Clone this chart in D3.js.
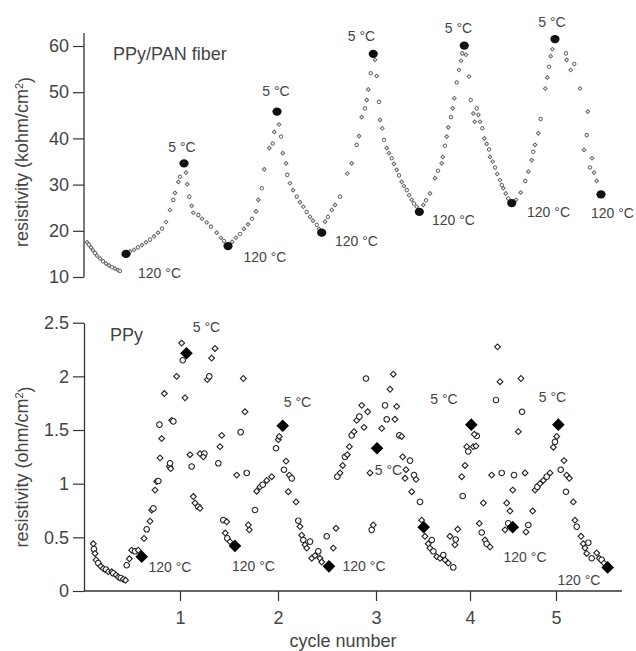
<!DOCTYPE html>
<html><head><meta charset="utf-8">
<script src="https://cdn.jsdelivr.net/npm/d3@7"></script>
<style>
body{margin:0;background:#fff}
svg{display:block}
text{font-family:Arial,"Liberation Sans",sans-serif;fill:#444}
</style>
</head><body>
<svg id="chart" width="636" height="651"></svg>
<script>
// ---------- data ----------
const cycleTicks = [1, 2, 3, 4, 5];
const fiberTicks = [10, 20, 30, 40, 50, 60];
const ppyTicks = [0, 0.5, 1, 1.5, 2, 2.5];

// PPy/PAN fiber: open (small) markers
const fiberX = [0.051,0.071,0.092,0.112,0.133,0.153,0.184,0.214,0.245,0.276,0.306,0.337,0.367,0.388,
 0.490,0.531,0.571,0.612,0.653,0.694,0.735,0.776,0.816,0.857,0.898,0.932,0.949,0.983,1.000,
 1.061,1.074,1.095,1.119,1.136,1.187,1.224,1.272,1.316,1.374,1.418,1.449,
 1.531,1.571,1.612,1.653,1.694,1.735,1.776,1.799,1.834,1.860,1.911,1.946,1.962,
 2.010,2.031,2.048,2.082,2.095,2.122,2.153,2.191,2.224,2.258,2.293,2.327,2.357,2.395,2.418,
 2.480,2.510,2.548,2.582,2.633,2.707,2.752,2.803,2.827,2.854,2.888,2.905,2.921,2.946,
 2.990,3.007,3.032,3.043,3.067,3.085,3.114,3.138,3.167,3.191,3.220,3.245,3.273,3.298,3.327,3.351,3.380,3.404,3.433,
 3.503,3.532,3.574,3.628,3.660,3.699,3.710,3.734,3.752,3.769,3.798,3.816,3.833,3.858,3.883,3.904,3.918,
 3.957,3.989,4.008,4.038,4.055,4.078,4.097,4.116,4.143,4.166,4.194,4.221,4.233,4.264,4.291,4.317,4.349,4.369,4.387,4.415,4.445,4.535,
 4.590,4.643,4.678,4.717,4.736,4.756,4.794,4.822,4.876,4.899,4.919,4.938,4.957,
 5.116,5.124,5.171,5.213,5.279,5.369,5.357,5.326,5.419,5.395,5.442,5.473];
const fiberY = [17.5,17.0,16.4,15.8,15.2,14.6,14.0,13.4,12.9,12.5,12.1,11.8,11.5,11.3,
 15.5,15.9,16.4,16.9,17.5,18.1,18.8,19.6,20.5,21.9,24.5,26.7,28.2,30.6,31.7,
 32.6,30.1,27.4,25.4,23.9,23.4,22.6,21.8,20.9,19.6,18.5,17.8,
 17.6,18.5,19.3,20.4,21.4,22.6,24.2,26.7,29.2,33.3,37.9,38.9,41.4,
 43.0,40.4,36.8,34.6,32.1,30.3,28.8,27.4,26.2,25.2,24.1,23.0,22.2,21.3,20.4,
 22.0,23.0,24.5,25.6,27.4,32.4,34.6,38.6,40.5,44.6,46.5,48.3,50.6,54.1,
 57.0,53.5,47.9,44.0,42.2,39.7,37.9,36.8,35.7,34.5,33.2,32.0,30.6,29.7,28.8,27.7,26.7,25.9,25.2,
 25.6,26.6,28.1,31.4,33.0,34.6,36.0,38.4,40.4,42.4,44.6,46.5,48.7,52.1,54.8,56.8,58.4,
 58.1,53.4,48.3,45.4,43.6,46.5,45.1,43.6,42.2,40.0,38.8,37.6,36.0,35.0,33.7,32.3,31.0,29.9,29.2,28.1,27.0,26.7,
 28.3,30.8,32.8,35.3,37.1,38.6,41.1,44.2,50.8,53.2,55.5,57.8,59.3,
 58.4,57.0,54.8,56.1,50.8,45.8,40.7,37.5,35.7,33.7,32.6,30.8];
// PPy/PAN fiber: filled markers (5 °C / 120 °C end points)
const fiberFilledX = [0.449,1.041,1.490,1.990,2.446,2.972,3.461,3.939,4.485,4.988,5.523];
const fiberFilledY = [15.0,34.6,16.7,45.8,19.6,58.3,24.1,60.1,26.0,61.5,27.9];

// PPy: open markers
const ppyX = [0.115,0.122,0.133,0.143,0.166,0.191,0.217,0.245,0.268,0.303,0.319,0.347,0.370,0.395,0.421,0.444,
 0.456,0.483,0.507,0.541,0.574,0.633,0.660,0.694,0.711,0.728,0.745,0.762,0.779,0.796,0.813,0.790,0.840,
 0.891,0.898,0.905,0.915,0.932,0.966,1.017,1.028,1.051,
 1.102,1.119,1.136,1.153,1.187,1.204,1.204,1.248,1.238,1.279,1.299,1.323,1.357,1.391,1.408,1.426,
 1.442,1.477,1.462,1.483,1.510,
 1.579,1.619,1.646,1.663,1.681,1.697,1.707,1.765,1.783,1.816,1.844,1.885,1.936,1.980,2.003,2.013,
 2.061,2.082,2.115,2.140,2.105,2.184,2.207,2.224,2.242,2.258,2.276,2.293,2.327,2.344,2.378,2.411,2.429,2.446,
 2.497,2.564,2.592,
 2.605,2.633,2.660,2.684,2.707,2.728,2.752,2.776,2.803,2.830,2.854,2.878,2.898,2.915,2.939,2.956,2.972,
 3.061,3.096,3.149,3.184,3.114,3.202,3.220,3.248,3.273,
 3.284,3.362,3.319,3.309,3.404,3.426,3.380,3.468,3.486,
 3.521,3.593,3.556,3.574,3.610,3.646,3.681,3.716,3.734,3.769,3.822,3.787,3.840,3.848,3.869,
 3.912,3.922,3.947,3.965,3.982,4.038,4.070,4.078,4.050,
 4.108,4.136,4.155,4.174,4.194,4.233,4.252,4.302,4.320,4.349,4.369,4.407,4.427,4.445,4.465,4.497,
 4.512,4.562,4.593,4.605,4.640,4.651,4.678,4.729,
 4.756,4.783,4.814,4.852,4.892,4.930,4.969,4.988,5.008,
 5.093,5.055,5.124,5.155,5.116,5.201,5.221,5.241,5.291,5.317,5.376,5.337,5.357,5.415,5.473,5.503,5.531,5.558];
const ppyY = [0.44,0.39,0.35,0.29,0.26,0.23,0.21,0.20,0.18,0.18,0.165,0.15,0.13,0.12,0.11,0.10,
 0.24,0.30,0.38,0.37,0.38,0.49,0.575,0.65,0.755,0.77,0.94,1.02,1.025,1.24,1.42,1.55,1.84,
 1.16,1.19,1.14,1.59,1.58,2.00,2.31,2.15,1.80,
 1.27,1.16,0.88,0.82,0.785,0.77,1.28,1.28,1.25,1.97,2.00,2.17,2.26,1.19,1.345,1.45,
 0.66,0.645,0.54,0.49,0.46,
 1.08,1.48,1.98,1.67,1.10,0.615,0.57,0.755,0.93,0.97,0.99,1.03,1.065,1.33,1.41,1.44,
 1.13,1.21,1.08,1.05,0.925,0.83,0.655,0.60,0.52,0.475,0.43,0.40,0.46,0.305,0.33,0.37,0.305,0.27,
 0.51,0.40,0.585,
 1.065,1.10,1.17,1.25,1.27,1.345,1.45,1.485,1.59,1.625,1.73,1.525,1.98,1.67,1.10,0.57,0.615,
 1.515,1.73,1.88,2.02,1.60,1.60,1.72,1.45,1.44,
 1.25,1.215,1.13,1.05,1.08,1.04,0.925,0.83,0.66,
 0.51,0.475,0.44,0.40,0.37,0.32,0.305,0.335,0.29,0.26,0.22,0.51,0.43,0.48,0.575,
 1.065,0.885,1.17,1.345,1.30,1.345,1.35,1.445,1.46,
 0.63,0.545,0.82,0.475,0.44,0.41,1.08,1.78,2.275,1.95,1.10,0.57,0.82,0.63,0.745,0.94,
 1.08,1.485,1.98,1.67,1.10,0.55,0.615,0.745,
 0.94,0.97,1.00,1.03,1.065,1.10,1.34,1.39,1.44,
 1.215,1.13,1.08,1.05,0.925,0.83,0.66,0.60,0.51,0.44,0.45,0.40,0.35,0.305,0.355,0.305,0.29,0.26];
// PPy: filled markers
const ppyFilledX = [0.609,1.066,1.561,2.048,2.520,3.011,3.507,4.015,4.497,5.027,5.601];
const ppyFilledY = [0.32,2.215,0.42,1.54,0.23,1.33,0.595,1.55,0.595,1.55,0.22];

// temperature annotations (data coordinates of the label centre)
const fiberColdX = [1.020,1.980,2.852,3.878,4.953];
const fiberColdY = [38.14,50.26,62.16,63.90,65.19];
const fiberHotX = [0.791,1.867,2.801,3.824,4.913,5.657];
const fiberHotY = [10.87,14.33,17.79,22.34,24.07,23.85];
const ppyColdX = [1.270,2.199,3.133,3.723,4.959];
const ppyColdY = [2.460,1.761,1.128,1.789,1.808];
const ppyHotX = [0.898,1.750,2.878,4.640,5.267];
const ppyHotY = [0.224,0.233,0.233,0.317,0.103];
const coldLabel = "5 °C";
const hotLabel = "120 °C";

// ---------- drawing ----------
const svg = d3.select("#chart");
svg.append("rect").attr("width",636).attr("height",651).attr("fill","#fff");

const x = d3.scaleLinear().domain(cycleTicks).range([180,278,376,470,556]);
const yTop = d3.scaleLinear().domain([10,60]).range([277,46]);
const yBot = d3.scaleLinear().domain([0,2.5]).range([591,322.7]);
const axisColor = "#333";

function styleAxis(g){
  g.selectAll(".tick line").attr("stroke",axisColor).attr("stroke-width",1.2);
  g.selectAll(".tick text").attr("fill","#444").style("font-size","18px")
   .style("font-family","Arial, 'Liberation Sans', sans-serif");
}

// top y axis
const gTop = svg.append("g").attr("transform","translate(84,0)")
  .call(d3.axisLeft(yTop).tickValues(fiberTicks).tickFormat(d3.format("d")).tickSize(11).tickPadding(4).tickSizeOuter(0));
gTop.select(".domain").remove();
styleAxis(gTop);
svg.append("line").attr("x1",84).attr("x2",84).attr("y1",yTop(62.8)).attr("y2",yTop(10))
  .attr("stroke",axisColor).attr("stroke-width",1.3);

// bottom y axis
const gBot = svg.append("g").attr("transform","translate(84,0)")
  .call(d3.axisLeft(yBot).tickValues(ppyTicks).tickFormat(d=>String(d)).tickSize(11).tickPadding(4).tickSizeOuter(0));
gBot.select(".domain").attr("stroke",axisColor).attr("stroke-width",1.3);
styleAxis(gBot);

// bottom x axis
const gX = svg.append("g").attr("transform","translate(0,591)")
  .call(d3.axisBottom(x).tickValues(cycleTicks).tickFormat(d3.format("d")).tickSize(10).tickPadding(10));
gX.select(".domain").remove();
styleAxis(gX);
svg.append("line").attr("x1",x(0.02)).attr("x2",x(5.767)).attr("y1",yBot(0)).attr("y2",yBot(0))
  .attr("stroke",axisColor).attr("stroke-width",1.3);

// axis titles
function yTitle(cy, unit){
  const t = svg.append("text").attr("transform",`translate(28,${cy}) rotate(-90)`)
    .attr("text-anchor","middle").style("font-size","18px");
  t.append("tspan").text(`resistivity (${unit}/cm`);
  t.append("tspan").attr("dy","-0.45em").style("font-size","11px").text("2");
  t.append("tspan").attr("dy","0.45em").text(")");
}
yTitle(162, "kohm");
yTitle(467, "ohm");
svg.append("text").attr("x",343).attr("y",647).attr("text-anchor","middle")
  .style("font-size","18px").text("cycle number");

// panel titles
svg.append("text").attr("x",113).attr("y",60).style("font-size","18px").text("PPy/PAN fiber");
svg.append("text").attr("x",110).attr("y",341).style("font-size","18px").text("PPy");

// top open markers
const fiberPts = fiberX.map((d,i)=>({x:d,y:fiberY[i],i}));
svg.append("g").selectAll("path").data(fiberPts).join("path")
  .attr("transform",d=>`translate(${x(d.x)},${yTop(d.y)}) rotate(45)`)
  .attr("d",d=> d.i%3===1 ? d3.symbol(d3.symbolCircle,9)() : d3.symbol(d3.symbolSquare,7)())
  .attr("fill","#fff").attr("stroke","#666").attr("stroke-width",1);

// top filled markers
svg.append("g").selectAll("ellipse").data(fiberFilledX.map((d,i)=>({x:d,y:fiberFilledY[i]}))).join("ellipse")
  .attr("cx",d=>x(d.x)).attr("cy",d=>yTop(d.y)).attr("rx",4.6).attr("ry",4.1).attr("fill","#111");

// bottom open markers
const ppyPts = ppyX.map((d,i)=>({x:d,y:ppyY[i],i}));
svg.append("g").selectAll("path").data(ppyPts).join("path")
  .attr("transform",d=>`translate(${x(d.x)},${yBot(d.y)}) rotate(45)`)
  .attr("d",d=> d.i%3===1 ? d3.symbol(d3.symbolCircle,24)() : d3.symbol(d3.symbolSquare,17)())
  .attr("fill","#fff").attr("stroke","#222").attr("stroke-width",1.1);

// bottom filled diamonds
svg.append("g").selectAll("path").data(ppyFilledX.map((d,i)=>({x:d,y:ppyFilledY[i]}))).join("path")
  .attr("transform",d=>`translate(${x(d.x)},${yBot(d.y)}) rotate(45)`)
  .attr("d",d3.symbol(d3.symbolSquare,80)()).attr("fill","#000");

// temperature labels
function labels(xs, ys, yScale, txt){
  svg.append("g").selectAll("text").data(xs.map((d,i)=>({x:d,y:ys[i]}))).join("text")
    .attr("x",d=>x(d.x)).attr("y",d=>yScale(d.y)).attr("dy","0.35em")
    .attr("text-anchor","middle").style("font-size","14px").text(txt);
}
labels(fiberColdX, fiberColdY, yTop, coldLabel);
labels(fiberHotX, fiberHotY, yTop, hotLabel);
labels(ppyColdX, ppyColdY, yBot, coldLabel);
labels(ppyHotX, ppyHotY, yBot, hotLabel);
</script>
</body></html>
